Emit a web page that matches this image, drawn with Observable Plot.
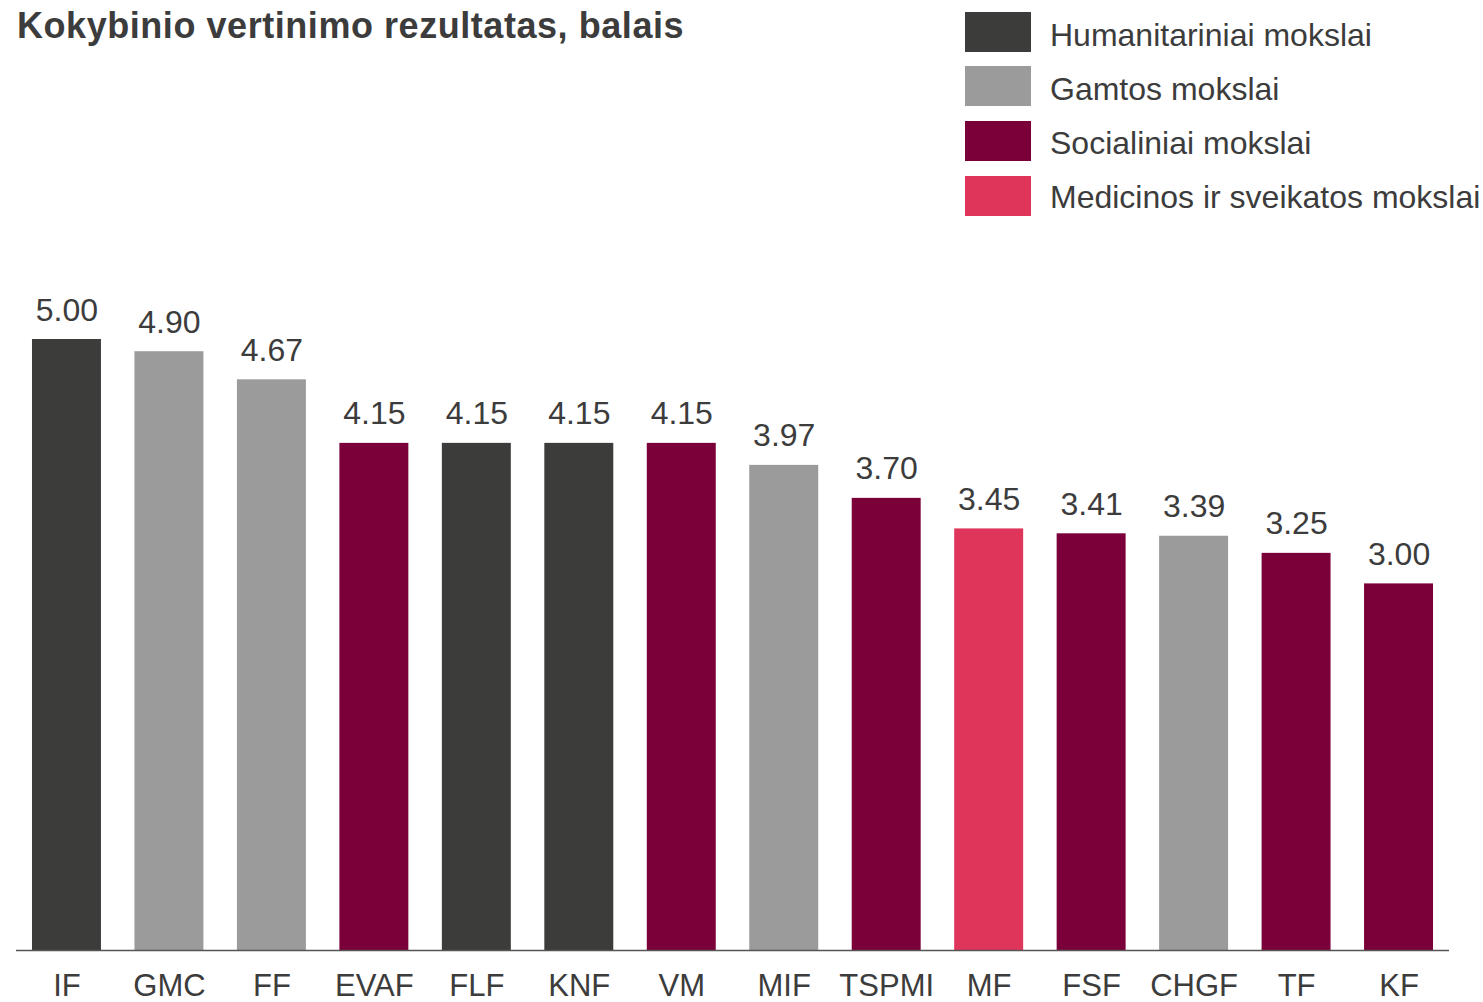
<!DOCTYPE html>
<html><head><meta charset="utf-8">
<script src="https://cdn.jsdelivr.net/npm/d3@7"></script>
<script src="https://cdn.jsdelivr.net/npm/@observablehq/plot@0.6"></script>
<style>
body{margin:0;background:#fff;font-family:"Liberation Sans",Arial,sans-serif;}
#root{position:relative;width:1483px;height:1002px;overflow:hidden;background:#fff;}
#title{position:absolute;left:17px;top:7.8px;font-size:36px;font-weight:bold;line-height:36px;letter-spacing:0.55px;color:#3c3c3c;white-space:nowrap;}
.sw{position:absolute;left:965px;width:66px;height:40px;}
.lt{position:absolute;left:1050px;font-size:32px;line-height:32px;color:#3c3c3c;white-space:nowrap;}
#chart{position:absolute;left:0;top:240px;}
</style></head>
<body><div id="root"><div id="title">Kokybinio vertinimo rezultatas, balais</div><div id="legend"></div><div id="chart"></div></div>
<script>
const categories = ["IF","GMC","FF","EVAF","FLF","KNF","VM","MIF","TSPMI","MF","FSF","CHGF","TF","KF"];
const values = [5.00,4.90,4.67,4.15,4.15,4.15,4.15,3.97,3.70,3.45,3.41,3.39,3.25,3.00];
const groups = ["Humanitariniai mokslai","Gamtos mokslai","Gamtos mokslai","Socialiniai mokslai","Humanitariniai mokslai","Humanitariniai mokslai","Socialiniai mokslai","Gamtos mokslai","Socialiniai mokslai","Medicinos ir sveikatos mokslai","Socialiniai mokslai","Gamtos mokslai","Socialiniai mokslai","Socialiniai mokslai"];
const groupNames = ["Humanitariniai mokslai","Gamtos mokslai","Socialiniai mokslai","Medicinos ir sveikatos mokslai"];
const groupColors = ["#3c3c3b","#9b9b9b","#7b0039","#e0355a"];

const data = categories.map((c,i)=>({cat:c, value:values[i], group:groups[i]}));

const legend = document.getElementById("legend");
groupNames.forEach((g,i)=>{
  const top = 11.5 + i*54.9;
  const sw = document.createElement("div");
  sw.className="sw"; sw.style.top=top+"px"; sw.style.background=groupColors[i];
  legend.appendChild(sw);
  const t = document.createElement("div");
  const baseline = 46.5 + i*53.7;
  t.className="lt"; t.style.top=(baseline-27.1)+"px"; t.textContent=g;
  legend.appendChild(t);
});

const chart = Plot.plot({
  width:1483, height:762, marginLeft:16, marginRight:34, marginTop:99, marginBottom:52,
  style:{fontFamily:"Liberation Sans, Arial, sans-serif", color:"#3c3c3c", background:"transparent", overflow:"visible"},
  x:{domain:categories, paddingInner:0.327, paddingOuter:0.156, round:false, label:null},
  y:{domain:[0,5], axis:null},
  color:{domain:groupNames, range:groupColors},
  marks:[
    Plot.barY(data,{x:"cat",y:"value",fill:"group"}),
    Plot.ruleY([0],{stroke:"#555",strokeWidth:1.5}),
    Plot.text(data,{x:"cat",y:"value",text:d=>d.value.toFixed(2),lineAnchor:"bottom",dy:-19,fontSize:32,fill:"#3c3c3c"}),
    Plot.axisX({tickSize:0,tickPadding:23,fontSize:31,label:null,fill:"#3c3c3c"})
  ]
});
document.getElementById("chart").appendChild(chart);
</script>
</body></html>
